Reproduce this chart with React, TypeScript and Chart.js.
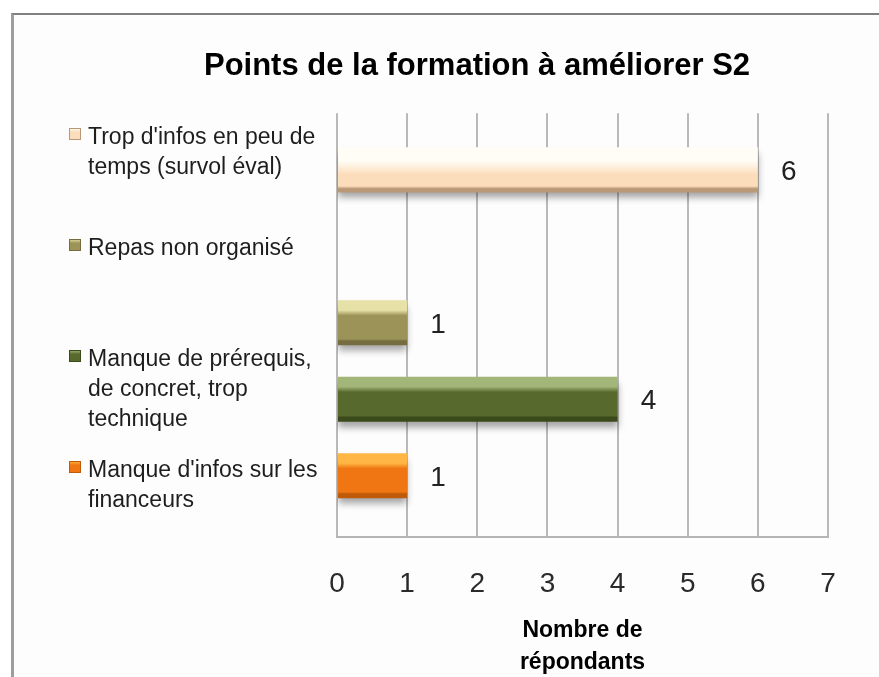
import React, { useEffect, useRef } from 'react';
import { Chart, registerables } from 'chart.js';

Chart.register(...registerables);

// ---------- data ----------
const chartTitle = 'Points de la formation à améliorer S2';
const axisTitleLines = ['Nombre de', 'répondants'];
const seriesNames = [
  "Trop d'infos en peu de temps (survol éval)",
  'Repas non organisé',
  'Manque de prérequis, de concret, trop technique',
  "Manque d'infos sur les financeurs",
];
const legendLines = [
  ["Trop d'infos en peu de", 'temps (survol éval)'],
  ['Repas non organisé'],
  ['Manque de prérequis,', 'de concret, trop', 'technique'],
  ["Manque d'infos sur les", 'financeurs'],
];
const seriesValues = [6, 1, 4, 1];
const seriesRows = [0, 2, 3, 4]; // category row (top to bottom) of each series' bar
const rowCount = 5;
const xMin = 0;
const xMax = 7;
const xStep = 1;

const seriesColors = [
  { light: '#FFFDF6', base: '#FCDDBB', dark: '#B99878' },
  { light: '#E6E1A6', base: '#9C9359', dark: '#756D40' },
  { light: '#A3B67A', base: '#57692D', dark: '#3A4A1B' },
  { light: '#FFB645', base: '#EF7612', dark: '#BE5A08' },
];

const FONT = '"Liberation Sans", Arial, sans-serif';

function barGradient(chart: any, top: number, bottom: number, i: number) {
  const c = seriesColors[i];
  if (!isFinite(top) || !isFinite(bottom) || top === bottom) return c.base;
  const g = chart.ctx.createLinearGradient(0, top, 0, bottom);
  if (i === 0) {
    g.addColorStop(0, c.light);
    g.addColorStop(0.3, c.light);
    g.addColorStop(0.6, c.base);
    g.addColorStop(0.86, c.base);
    g.addColorStop(0.92, c.dark);
    g.addColorStop(1, c.dark);
  } else {
    g.addColorStop(0, c.light);
    g.addColorStop(0.22, c.light);
    g.addColorStop(0.34, c.base);
    g.addColorStop(0.86, c.base);
    g.addColorStop(0.9, c.dark);
    g.addColorStop(1, c.dark);
  }
  return g;
}

function markerGradient(chart: any, top: number, bottom: number, i: number) {
  const c = seriesColors[i];
  const g = chart.ctx.createLinearGradient(0, top, 0, bottom);
  g.addColorStop(0, c.light);
  g.addColorStop(0.35, c.base);
  g.addColorStop(1, c.base);
  return g;
}

const legendPlugin = {
  id: 'sideLegend',
  afterDraw(chart: any, _args: any, opts: any) {
    const ctx = chart.ctx;
    ctx.save();
    legendLines.forEach((lines, i) => {
      const y0 = opts.top + i * opts.step;
      const mTop = y0 - opts.markerLift - opts.marker / 2;
      ctx.fillStyle = markerGradient(chart, mTop, mTop + opts.marker, i);
      ctx.fillRect(opts.markerX, mTop, opts.marker, opts.marker);
      ctx.strokeStyle = seriesColors[i].dark;
      ctx.lineWidth = 1;
      ctx.strokeRect(opts.markerX + 0.5, mTop + 0.5, opts.marker - 1, opts.marker - 1);
      ctx.fillStyle = '#1e1e1e';
      ctx.font = `${opts.fontSize}px ${FONT}`;
      ctx.textBaseline = 'middle';
      ctx.textAlign = 'left';
      lines.forEach((t, k) => ctx.fillText(t, opts.textX, y0 + k * opts.lineGap));
    });
    ctx.restore();
  },
};

const shadowPlugin = {
  id: 'barShadow',
  beforeDatasetsDraw(chart: any) {
    const ctx = chart.ctx;
    ctx.save();
    ctx.shadowColor = 'rgba(0,0,0,0.35)';
    ctx.shadowBlur = 7;
    ctx.shadowOffsetY = 6;
  },
  afterDatasetsDraw(chart: any) {
    chart.ctx.restore();
  },
};

const valueLabelPlugin = {
  id: 'valueLabels',
  afterDatasetsDraw(chart: any, _a: any, opts: any) {
    const ctx = chart.ctx;
    ctx.save();
    ctx.font = `${opts.fontSize}px ${FONT}`;
    ctx.fillStyle = '#222';
    ctx.textAlign = 'center';
    ctx.textBaseline = 'middle';
    chart.data.datasets.forEach((ds: any, di: number) => {
      const meta = chart.getDatasetMeta(di);
      meta.data.forEach((el: any, j: number) => {
        const v = ds.data[j].x;
        ctx.fillText(String(v), el.x + opts.offset, el.y + 2);
      });
    });
    ctx.restore();
  },
};

export default function App() {
  const ref = useRef<HTMLCanvasElement>(null);

  useEffect(() => {
    if (!ref.current) return;
    const barPct = 0.59;
    const chart = new Chart(ref.current, {
      type: 'bar',
      data: {
        datasets: seriesNames.map((name, i) => ({
          label: name,
          data: [{ x: seriesValues[i], y: seriesRows[i] }],
          backgroundColor: (c: any) => {
            const ys = c.chart.scales?.y;
            if (!ys || c.raw == null) return seriesColors[i].base;
            const yc = ys.getPixelForValue(c.raw.y);
            const h = Math.abs(ys.getPixelForValue(1) - ys.getPixelForValue(0)) * barPct;
            return barGradient(c.chart, yc - h / 2, yc + h / 2, i);
          },
          borderWidth: 0,
          categoryPercentage: 1,
          barPercentage: barPct,
        })),
      },
      options: {
        indexAxis: 'y',
        animation: false,
        responsive: false,
        events: [],
        layout: { padding: { left: 126, right: 51, top: 20, bottom: 0 } },
        plugins: {
          legend: { display: false },
          tooltip: { enabled: false },
          title: {
            display: true,
            text: chartTitle,
            color: '#000',
            font: { family: FONT, size: 31, weight: 'bold' },
            padding: { top: 28, bottom: 28 },
          },
          sideLegend: {
            top: 138,
            step: 111,
            lineGap: 30,
            textX: 88,
            markerX: 69,
            marker: 12,
            markerLift: 4,
            fontSize: 23,
          },
          valueLabels: { offset: 31, fontSize: 28 },
        } as any,
        scales: {
          x: {
            type: 'linear',
            min: xMin,
            max: xMax,
            stacked: true,
            ticks: {
              stepSize: xStep,
              color: '#2a2a2a',
              font: { family: FONT, size: 28 },
              padding: 30,
            },
            grid: { color: '#b9b9b9', lineWidth: 2, drawTicks: false },
            border: { display: true, color: '#b5b5b5', width: 2 },
            title: {
              display: true,
              text: axisTitleLines,
              color: '#000',
              font: { family: FONT, size: 23, weight: 'bold', lineHeight: 1.4 },
              padding: { top: -16, bottom: -2 },
            },
          },
          y: {
            type: 'linear',
            reverse: true,
            stacked: true,
            offset: false,
            min: -0.74,
            max: rowCount - 1 + 0.8,
            ticks: { display: false, stepSize: 1, includeBounds: false },
            grid: { display: false, offset: false },
            border: { display: false },
            afterFit: (s: any) => {
              s.width = 211;
            },
          },
        },
      } as any,
      plugins: [shadowPlugin, valueLabelPlugin, legendPlugin],
    });
    return () => chart.destroy();
  }, []);

  return (
    <div
      style={{
        position: 'absolute',
        left: 0,
        top: 0,
        width: 879,
        height: 677,
        overflow: 'hidden',
        background: '#fff',
      }}
    >
      <div
        style={{
          position: 'absolute',
          left: 11,
          top: 13,
          width: 1000,
          height: 1000,
          borderTop: '2px solid #808080',
          borderLeft: '3px solid #9d9d9d',
          background: '#fdfdfd',
        }}
      />
      <canvas
        ref={ref}
        width={879}
        height={677}
        style={{ position: 'absolute', left: 0, top: 0, width: 879, height: 677 }}
      />
    </div>
  );
}
